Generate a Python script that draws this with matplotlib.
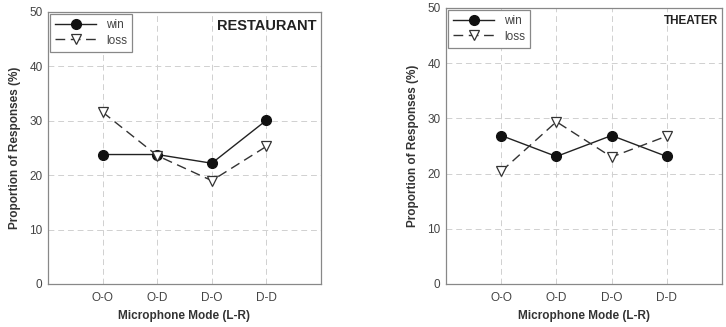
import matplotlib
matplotlib.use("Agg")
import matplotlib.pyplot as plt

plt.rcParams['font.family'] = ['Liberation Sans', 'DejaVu Sans']

modos = ['O-O', 'O-D', 'D-O', 'D-D']

rest_win = [23.8, 23.8, 22.2, 30.1]
rest_loss = [31.6, 23.6, 19.0, 25.3]

teatro_win = [26.9, 23.1, 26.9, 23.1]
teatro_loss = [20.4, 29.4, 23.0, 26.8]

yticks = [0, 10, 20, 30, 40, 50]


def dibujar(ax, win, loss, titulo, tam_titulo):
    # un panel con las dos series win/loss
    x = range(1, len(modos) + 1)
    ax.plot(x, win, '-', color='#222222', lw=1.0, marker='o', ms=7,
            mfc='#111111', mec='#111111', label='win', zorder=3)
    ax.plot(x, loss, '--', color='#333333', lw=1.0, dashes=(7, 4), marker='v', ms=7,
            mfc='white', mec='#333333', mew=0.9, label='loss', zorder=3)
    ax.set_xlim(0, 5)
    ax.set_ylim(0, 50)
    ax.set_xticks(list(x))
    ax.set_xticklabels(modos)
    ax.set_yticks(yticks)
    ax.tick_params(length=0, labelsize=8.5, colors='#444444')
    ax.tick_params(axis='x', pad=6)
    ax.tick_params(axis='y', pad=4)
    ax.grid(True, ls=(0, (6, 4)), color='#d0d0d0', lw=0.7)
    for s in ax.spines.values():
        s.set_color('#888888')
        s.set_linewidth(0.9)
    ax.set_xlabel('Microphone Mode (L-R)', fontsize=8.5, fontweight='bold', color='#333333')
    ax.set_ylabel('Proportion of Responses (%)', fontsize=8.5, fontweight='bold',
                  color='#333333', labelpad=6)
    ax.text(0.985, 0.975, titulo, transform=ax.transAxes, ha='right', va='top',
            fontsize=tam_titulo, fontweight='bold', color='#222222')
    leg = ax.legend(loc='upper left', fontsize=8.5, handlelength=3.5, borderaxespad=0.15,
                    fancybox=False, framealpha=1, labelspacing=0.3, handletextpad=0.8,
                    borderpad=0.45)
    leg.get_frame().set_edgecolor('#888888')
    leg.get_frame().set_linewidth(0.9)
    for t in leg.get_texts():
        t.set_color('#444444')


fig = plt.figure(figsize=(7.26, 3.27), dpi=100)
ax1 = fig.add_axes([48 / 726, 43 / 327, 273 / 726, 272 / 327])
ax2 = fig.add_axes([446 / 726, 43 / 327, 276 / 726, 276 / 327])

dibujar(ax1, rest_win, rest_loss, 'RESTAURANT', 10.5)
dibujar(ax2, teatro_win, teatro_loss, 'THEATER', 8.5)

plt.savefig('out.png', dpi=100)
